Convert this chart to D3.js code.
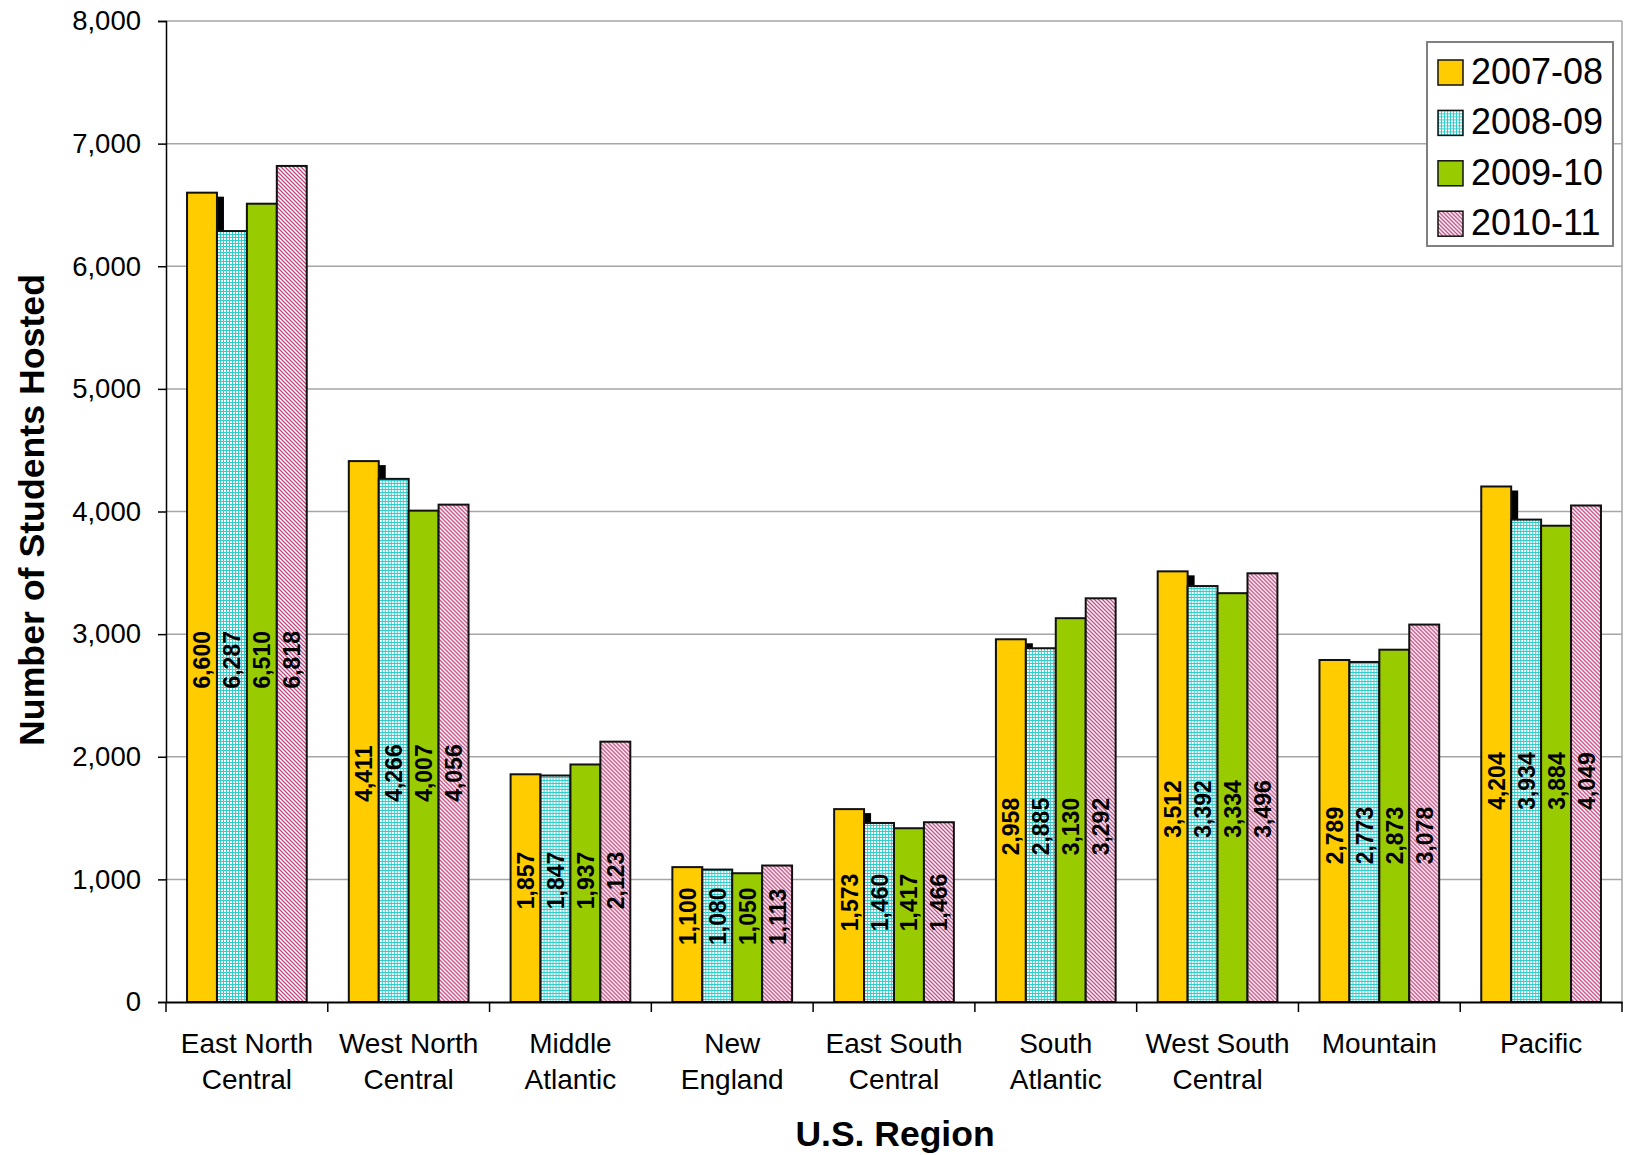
<!DOCTYPE html>
<html>
<head>
<meta charset="utf-8">
<script src="https://cdn.jsdelivr.net/npm/d3@7"></script>
<style>
  html, body { margin: 0; padding: 0; background: #fff; }
  svg { display: block; font-family: "Liberation Sans", Arial, sans-serif; }
</style>
</head>
<body>
<svg id="chart" width="1627" height="1155"></svg>
<script>
const categories = ["East North Central", "West North Central", "Middle Atlantic", "New England",
  "East South Central", "South Atlantic", "West South Central", "Mountain", "Pacific"];
const categoryLines = [["East North", "Central"], ["West North", "Central"], ["Middle", "Atlantic"],
  ["New", "England"], ["East South", "Central"], ["South", "Atlantic"], ["West South", "Central"],
  ["Mountain"], ["Pacific"]];
const seriesNames = ["2007-08", "2008-09", "2009-10", "2010-11"];
const values2007 = [6600, 4411, 1857, 1100, 1573, 2958, 3512, 2789, 4204];
const values2008 = [6287, 4266, 1847, 1080, 1460, 2885, 3392, 2773, 3934];
const values2009 = [6510, 4007, 1937, 1050, 1417, 3130, 3334, 2873, 3884];
const values2010 = [6818, 4056, 2123, 1113, 1466, 3292, 3496, 3078, 4049];
const yTicks = [0, 1000, 2000, 3000, 4000, 5000, 6000, 7000, 8000];
const yTitle = "Number of Students Hosted";
const xTitle = "U.S. Region";

(function () {
const seriesValues = [values2007, values2008, values2009, values2010];

const svg = d3.select("#chart");
const defs = svg.append("defs");

// patterns
const pc = defs.append("pattern").attr("id", "patCyan").attr("patternUnits", "userSpaceOnUse")
  .attr("width", 3).attr("height", 3);
pc.append("rect").attr("width", 3).attr("height", 3).attr("fill", "#ffffff");
pc.append("rect").attr("width", 3).attr("height", 1).attr("fill", "#33cccc");
pc.append("rect").attr("width", 1).attr("height", 3).attr("fill", "#33cccc");

const pp = defs.append("pattern").attr("id", "patPink").attr("patternUnits", "userSpaceOnUse")
  .attr("width", 4).attr("height", 4);
pp.append("rect").attr("width", 4).attr("height", 4).attr("fill", "#ffffff");
pp.append("path").attr("d", "M-1,-1 L5,5 M-1,3 L1,5 M3,-1 L5,1")
  .attr("stroke", "#c0457e").attr("stroke-width", 1.3);

const fills = ["#FFCC00", "url(#patCyan)", "#99CC00", "url(#patPink)"];

const pLeft = 166, pRight = 1622, pTop = 21, pBottom = 1002;

const x0 = d3.scaleBand().domain(categories).range([pLeft, pRight]).paddingInner(0).paddingOuter(0);
const bw = x0.bandwidth();
const x1 = d3.scaleBand().domain(seriesNames).range([bw * 0.13, bw * 0.87]).padding(0);
const y = d3.scaleLinear().domain([0, 8000]).range([pBottom, pTop]);

// gridlines
svg.append("g").selectAll("line").data(yTicks.filter(d => d > 0)).join("line")
  .attr("x1", pLeft).attr("x2", pRight)
  .attr("y1", d => y(d)).attr("y2", d => y(d))
  .attr("stroke", "#a6a6a6").attr("stroke-width", 1.5);
// right border
svg.append("line").attr("x1", pRight).attr("x2", pRight).attr("y1", pTop).attr("y2", pBottom)
  .attr("stroke", "#a6a6a6").attr("stroke-width", 1.5);

// y axis
const yAxis = d3.axisLeft(y).tickValues(yTicks).tickSize(8).tickPadding(17)
  .tickFormat(d3.format(","));
const yg = svg.append("g").attr("transform", `translate(${pLeft},0)`).call(yAxis);
yg.select(".domain").attr("stroke", "#000").attr("stroke-width", 1.5);
yg.selectAll(".tick line").attr("stroke", "#000").attr("stroke-width", 1.5);
yg.selectAll(".tick text").attr("font-size", 27.5).attr("fill", "#000")
  .attr("font-family", "'Liberation Sans', Arial, sans-serif");

// bars
const groups = svg.append("g").selectAll("g").data(categories).join("g")
  .attr("transform", d => `translate(${x0(d)},0)`);

// shadow strip beside first-series bar
groups.append("rect")
  .attr("x", x1(seriesNames[0]) + x1.bandwidth())
  .attr("width", 7)
  .attr("y", (d, i) => y(seriesValues[0][i]) + 4)
  .attr("height", (d, i) => Math.max(0, pBottom - y(seriesValues[0][i]) - 4))
  .attr("fill", "#000");

seriesNames.forEach((s, si) => {
  groups.append("rect")
    .attr("x", x1(s))
    .attr("width", x1.bandwidth())
    .attr("y", (d, i) => y(seriesValues[si][i]))
    .attr("height", (d, i) => pBottom - y(seriesValues[si][i]))
    .attr("fill", fills[si])
    .attr("stroke", "#111")
    .attr("stroke-width", 2);
});

// value labels
seriesNames.forEach((s, si) => {
  groups.append("text")
    .attr("transform", (d, i) => {
      const mean = d3.mean(seriesValues, arr => arr[i]);
      const h = pBottom - y(mean);
      const off = Math.max(h * 0.39, 57);
      const cx = x1(s) + x1.bandwidth() / 2;
      return `translate(${cx + 8.5},${pBottom - off}) rotate(-90)`;
    })
    .attr("text-anchor", "start")
    .attr("font-size", 23)
    .attr("font-weight", "bold")
    .attr("fill", "#000")
    .text((d, i) => d3.format(",")(seriesValues[si][i]));
});

// x axis
const xAxis = d3.axisBottom(x0).tickSize(0).tickFormat("");
const xg = svg.append("g").attr("transform", `translate(0,${pBottom})`).call(xAxis);
xg.select(".domain").attr("stroke", "#000").attr("stroke-width", 2);
// boundary ticks
const bounds = categories.map(c => x0(c)).concat([pRight]);
svg.append("g").selectAll("line").data(bounds).join("line")
  .attr("x1", d => d).attr("x2", d => d).attr("y1", pBottom).attr("y2", pBottom + 10)
  .attr("stroke", "#000").attr("stroke-width", 1.5);

// category labels
const cl = svg.append("g").selectAll("text").data(categories).join("text")
  .attr("x", d => x0(d) + bw / 2)
  .attr("y", 1053)
  .attr("text-anchor", "middle")
  .attr("font-size", 28)
  .attr("fill", "#000");
cl.each(function(d, i) {
  const t = d3.select(this);
  categoryLines[i].forEach((line, li) => {
    t.append("tspan").attr("x", x0(d) + bw / 2).attr("dy", li === 0 ? 0 : 36).text(line);
  });
});

// axis titles
svg.append("text")
  .attr("transform", `translate(44,510) rotate(-90)`)
  .attr("text-anchor", "middle")
  .attr("font-size", 35.7).attr("font-weight", "bold").attr("fill", "#000")
  .text(yTitle);
svg.append("text")
  .attr("x", 895).attr("y", 1146)
  .attr("text-anchor", "middle")
  .attr("font-size", 35.5).attr("font-weight", "bold").attr("fill", "#000")
  .text(xTitle);

// legend
const lg = svg.append("g");
lg.append("rect").attr("x", 1427).attr("y", 42).attr("width", 186).attr("height", 204)
  .attr("fill", "#fff").attr("stroke", "#808080").attr("stroke-width", 2);
const items = lg.selectAll("g").data(seriesNames).join("g")
  .attr("transform", (d, i) => `translate(1438,${72 + i * 50.4})`);
items.append("rect").attr("x", 0).attr("y", -12).attr("width", 25).attr("height", 25)
  .attr("fill", (d, i) => fills[i]).attr("stroke", "#111").attr("stroke-width", 1.5);
items.append("text").attr("x", 33).attr("y", 12)
  .attr("font-size", 36).attr("fill", "#000").text(d => d);
})();
</script>
</body>
</html>
